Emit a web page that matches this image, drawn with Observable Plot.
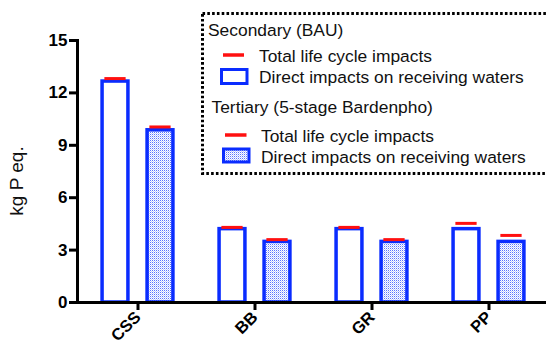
<!DOCTYPE html>
<html>
<head>
<meta charset="utf-8">
<script src="https://cdn.jsdelivr.net/npm/d3@7"></script>
<script src="https://cdn.jsdelivr.net/npm/@observablehq/plot@0.6"></script>
<style>
  html, body { margin: 0; padding: 0; background: white; }
  #chart { position: relative; width: 546px; height: 344px; }
  svg { font-family: "Liberation Sans", Arial, sans-serif; }
</style>
</head>
<body>
<div id="chart"></div>
<script>
const categories = ["CSS", "BB", "GR", "PP"];
const secondaryDirect = [12.65, 4.2, 4.2, 4.2];
const secondaryTotal = [12.82, 4.3, 4.3, 4.53];
const tertiaryDirect = [9.86, 3.47, 3.47, 3.47];
const tertiaryTotal = [10.05, 3.6, 3.6, 3.84];
const yTicks = [0, 3, 6, 9, 12, 15];
const yLabel = "kg P eq.";
const legendGroups = ["Secondary (BAU)", "Tertiary (5-stage Bardenpho)"];
const legendItems = ["Total life cycle impacts", "Direct impacts on receiving waters"];

const BLUE = "#0a2cff";
const RED = "#ff1010";

const data = categories.map((c, i) => ({
  cat: c,
  secDirect: secondaryDirect[i],
  secTotal: secondaryTotal[i],
  terDirect: tertiaryDirect[i],
  terTotal: tertiaryTotal[i]
}));

const W = 546, H = 344, ML = 77, MR = -2, MT = 40, MB = 42;
const half = (W - ML - MR) / categories.length / 2;
const off = 22.5, barHalf = 13.3, tickHalf = 11;

const svg = Plot.plot({
  width: W, height: H,
  marginLeft: ML, marginRight: MR, marginTop: MT, marginBottom: MB,
  x: {domain: categories, padding: 0, label: null},
  y: {domain: [0, 15], label: null},
  marks: [
    Plot.barY(data, {x: "cat", y: "secDirect", fill: "white", stroke: BLUE, strokeWidth: 3.5,
      insetLeft: half - off - barHalf, insetRight: half + off - barHalf}),
    Plot.barY(data, {x: "cat", y: "terDirect", fill: "url(#dots)", stroke: BLUE, strokeWidth: 3.5,
      insetLeft: half + off - barHalf, insetRight: half - off - barHalf, className: "ter"}),
    Plot.tickY(data, {x: "cat", y: "secTotal", stroke: RED, strokeWidth: 3,
      insetLeft: half - off - tickHalf, insetRight: half + off - tickHalf}),
    Plot.tickY(data, {x: "cat", y: "terTotal", stroke: RED, strokeWidth: 3,
      insetLeft: half + off - tickHalf, insetRight: half - off - tickHalf}),
    Plot.frame({anchor: "left", strokeWidth: 3}),
    Plot.ruleY([0], {strokeWidth: 3}),
    Plot.axisY({ticks: yTicks, tickSize: 8, tickPadding: 2, strokeWidth: 3, fontSize: 17, fontWeight: "bold", label: null}),
    Plot.axisX({tickSize: 8, tickPadding: 4, strokeWidth: 3, tickRotate: -45, fontSize: 16.5, fontWeight: "bold", label: null})
  ]
});

const s = d3.select(svg);
const defs = s.insert("defs", ":first-child");
const pat = defs.append("pattern").attr("id", "dots").attr("patternUnits", "userSpaceOnUse")
  .attr("width", 2).attr("height", 2);
pat.append("rect").attr("width", 2).attr("height", 2).attr("fill", "white");
pat.append("rect").attr("x", 0).attr("y", 0).attr("width", 1).attr("height", 1).attr("fill", "#5a74ff");
pat.append("rect").attr("x", 1).attr("y", 1).attr("width", 1).attr("height", 1).attr("fill", "#c4cdff");
s.selectAll(".ter rect").attr("fill", "url(#dots)");

// y label
s.append("text").attr("transform", "translate(18,181) rotate(-90)")
  .attr("text-anchor", "middle").attr("dominant-baseline", "middle")
  .attr("font-size", 19).attr("fill", "#111").text(yLabel);

// legend
const lg = s.append("g").attr("font-size", 17.4).attr("fill", "#111").attr("text-anchor", "start");
lg.append("rect").attr("x", 202.5).attr("y", 13.5).attr("width", 360).attr("height", 160)
  .attr("fill", "white").attr("stroke", "black").attr("stroke-width", 3).attr("stroke-dasharray", "2.6 2.2");
const groups = [
  {title: legendGroups[0], tx: 208, ty: 36, line: [223, 244, 55], ix: 259, iy1: 62, box: [221.5, 69.5, 25.5, 14], iy2: 83, fill: "white"},
  {title: legendGroups[1], tx: 211.5, ty: 113, line: [225, 246.5, 135], ix: 261, iy1: 142, box: [223.5, 149, 25.5, 13], iy2: 163, fill: "url(#dots)"}
];
for (const g of groups) {
  lg.append("text").attr("x", g.tx).attr("y", g.ty).text(g.title);
  lg.append("line").attr("x1", g.line[0]).attr("x2", g.line[1]).attr("y1", g.line[2]).attr("y2", g.line[2])
    .attr("stroke", RED).attr("stroke-width", 3.5);
  lg.append("text").attr("x", g.ix).attr("y", g.iy1).text(legendItems[0]);
  lg.append("rect").attr("x", g.box[0]).attr("y", g.box[1]).attr("width", g.box[2]).attr("height", g.box[3])
    .attr("fill", g.fill).attr("stroke", BLUE).attr("stroke-width", 3);
  lg.append("text").attr("x", g.ix).attr("y", g.iy2).text(legendItems[1]);
}

document.getElementById("chart").appendChild(svg);
</script>
</body>
</html>
